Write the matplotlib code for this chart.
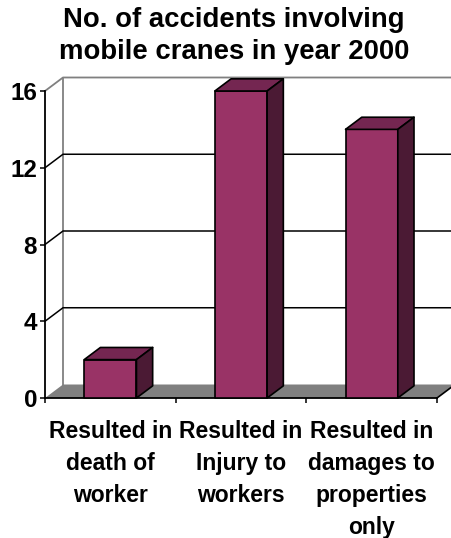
import matplotlib
matplotlib.use("Agg")
import matplotlib.pyplot as plt
from matplotlib.patches import Polygon

categories = [
    "Resulted in\ndeath of\nworker",
    "Resulted in\nInjury to\nworkers",
    "Resulted in\ndamages to\nproperties\nonly",
]
accidents = [2, 16, 14]
y_ticks = [0, 4, 8, 12, 16]
title = "No. of accidents involving\nmobile cranes in year 2000"

plt.rcParams["font.family"] = ["Liberation Sans", "DejaVu Sans"]
plt.rcParams["font.weight"] = "bold"

W, H = 451, 538
fig = plt.figure(figsize=(W / 100, H / 100), dpi=100)
ax = fig.add_axes([45 / W, 1 - 398 / H, 392 / W, 307 / H])
ax.set_xlim(0, len(categories))
ax.set_ylim(0, y_ticks[-1])

n = len(categories)
top_v = y_ticks[-1]

# depth of the fake 3d box, in data units
dx = 18 / (392 / n)
dy = 13.5 / (307 / top_v)

front_c = "#993366"
top_c = "#742651"
side_c = "#4b1a34"
grey = "#808080"

# floor
ax.add_patch(Polygon([(0, 0), (n, 0), (n + dx, dy), (dx, dy)], closed=True,
                     facecolor=grey, edgecolor="none", clip_on=False, zorder=1))
ax.plot([n, n + dx], [0, dy], color="black", lw=1.2, clip_on=False, zorder=1.5)

# gridlines on side and back wall
for t in y_ticks[1:-1]:
    ax.plot([0, dx, n + dx + 0.3], [t, t + dy, t + dy], color="black", lw=1.1,
            clip_on=False, zorder=1)

# wall borders
ax.plot([0, dx, n + dx + 0.3], [top_v, top_v + dy, top_v + dy], color=grey, lw=1.3,
        clip_on=False, zorder=1)
ax.plot([dx, dx], [dy, top_v + dy], color=grey, lw=1.3, clip_on=False, zorder=0.9)

# bars
bw = 0.4
bd = 0.9
for i, v in enumerate(accidents):
    x0 = i + 0.5 - bw / 2
    x1 = x0 + bw
    ddx, ddy = dx * bd, dy * bd
    faces = [
        ([(x0, 0), (x1, 0), (x1, v), (x0, v)], front_c),
        ([(x0, v), (x1, v), (x1 + ddx, v + ddy), (x0 + ddx, v + ddy)], top_c),
        ([(x1, 0), (x1 + ddx, ddy), (x1 + ddx, v + ddy), (x1, v)], side_c),
    ]
    for pts, c in faces:
        ax.add_patch(Polygon(pts, closed=True, facecolor=c, edgecolor="black",
                             lw=1.2, joinstyle="round", clip_on=False, zorder=3))

for s in ["top", "right"]:
    ax.spines[s].set_visible(False)
for s in ["left", "bottom"]:
    ax.spines[s].set_linewidth(1.3)
    ax.spines[s].set_zorder(2)

ax.set_yticks(y_ticks)
ax.set_yticklabels([str(t) for t in y_ticks])
ax.set_xticks(range(n + 1))
ax.set_xticklabels([])
ax.set_xticks([i + 0.5 for i in range(n)], minor=True)
ax.set_xticklabels(categories, minor=True)
ax.tick_params(axis="y", direction="out", length=3.6, width=1.1, pad=2, labelsize=17.5)
ax.tick_params(axis="x", which="major", direction="out", length=3.6, width=1.1)
ax.tick_params(axis="x", which="minor", length=0, pad=15.5, labelsize=16.5)
for lbl in ax.get_xticklabels(minor=True):
    lbl.set_linespacing(1.5)

fig.text(234 / W, 1 - 7 / H, title, ha="center", va="top", fontsize=19.8,
         fontweight="bold", linespacing=1.3)

fig.savefig("out.png", dpi=100)
